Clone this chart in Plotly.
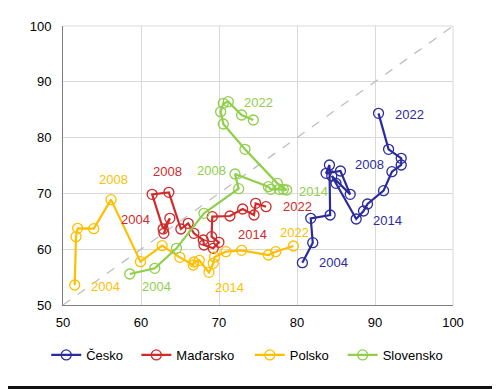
import plotly.graph_objects as go

years = list(range(2004, 2023))
series_names = ["Česko", "Maďarsko", "Polsko", "Slovensko"]

cz_x = [80.69, 82.02, 81.76, 84.25, 84.16, 83.73, 85.57, 86.82, 84.46, 85.0,
        87.59, 88.53, 89.04, 91.10, 92.17, 93.36, 93.36, 91.74, 90.45]
cz_y = [57.59, 61.17, 65.53, 66.13, 75.09, 73.60, 74.01, 69.83, 73.12, 71.8,
        65.41, 66.85, 68.10, 70.49, 73.89, 75.09, 76.28, 77.90, 84.35]

hu_x = [62.93, 63.70, 62.84, 61.43, 63.57, 65.11, 66.05, 66.78, 67.98, 68.07,
        69.26, 69.99, 69.05, 69.14, 71.40, 73.03, 74.49, 74.70, 76.03]
hu_y = [62.84, 65.53, 63.62, 69.83, 70.19, 63.62, 64.64, 62.84, 61.65, 60.75,
        60.16, 61.23, 62.25, 65.83, 65.95, 67.20, 66.13, 68.22, 67.62]

pl_x = [51.50, 51.67, 51.88, 53.94, 56.16, 59.93, 62.71, 64.98, 66.70, 66.78,
        67.47, 68.71, 69.26, 69.43, 70.89, 72.90, 76.33, 77.27, 79.54]
pl_y = [53.58, 62.25, 63.74, 63.68, 68.88, 57.77, 60.63, 58.54, 57.17, 57.71,
        58.00, 55.85, 57.47, 58.60, 59.56, 59.80, 58.96, 59.56, 60.57]

sk_x = [58.56, 61.77, 64.55, 68.07, 72.52, 72.05, 76.33, 76.63, 77.74, 78.25,
        78.68, 77.48, 73.33, 70.55, 70.21, 70.55, 71.19, 72.90, 74.40]
sk_y = [55.56, 56.57, 60.16, 66.43, 70.85, 73.48, 71.21, 70.73, 70.73, 70.73,
        70.61, 71.80, 77.90, 82.44, 84.65, 86.14, 86.44, 84.05, 83.15]

label_years = [2004, 2008, 2014, 2022]
diag = [50, 100]
x_ticks = [50, 60, 70, 80, 90, 100]
y_ticks = [50, 60, 70, 80, 90, 100]

# ---- styles ----
colors = ["#2b2b9e", "#d02a2a", "#ffbf00", "#8fcf4a"]
label_offsets = {
    "Česko": [(31, 0), (40, -1), (31, 1), (31, 1)],
    "Maďarsko": [(-28, -14), (-1, -21), (39, -14), (31, 0)],
    "Polsko": [(31, 1), (2, -20), (30, 27), (1, -14)],
    "Slovensko": [(27, 13), (-27, -18), (27, 1), (5, -18)],
}
legend_x = [-0.043, 0.188, 0.479, 0.717]
legend_keys = ["legend", "legend2", "legend3", "legend4"]

data = {
    "Česko": (cz_x, cz_y),
    "Maďarsko": (hu_x, hu_y),
    "Polsko": (pl_x, pl_y),
    "Slovensko": (sk_x, sk_y),
}

fig = go.Figure()
fig.add_trace(go.Scatter(x=diag, y=diag, mode="lines",
                         line=dict(color="#bfbfbf", width=1.3, dash="dash"),
                         showlegend=False, hoverinfo="skip"))

font_family = "Liberation Sans, Arial, sans-serif"
annotations = []
for name, col, lg in zip(series_names, colors, legend_keys):
    xs, ys = data[name]
    fig.add_trace(go.Scatter(
        x=xs, y=ys, mode="lines+markers", name=name, legend=lg,
        line=dict(color=col, width=2.2),
        marker=dict(symbol="circle-open", size=10, color=col,
                    line=dict(width=1.3, color=col)),
    ))
    for yr, (dx, dy) in zip(label_years, label_offsets[name]):
        i = years.index(yr)
        annotations.append(dict(
            x=xs[i], y=ys[i], xref="x", yref="y", text=str(yr),
            showarrow=False, xshift=dx, yshift=-dy,
            font=dict(family=font_family, size=13, color=col),
        ))

legend_common = dict(orientation="h", y=-0.179, yanchor="middle", xanchor="left",
                     font=dict(size=13, color="black", family=font_family),
                     itemwidth=30, bgcolor="rgba(0,0,0,0)")
layout_legends = {k: dict(legend_common, x=lx) for k, lx in zip(legend_keys, legend_x)}

fig.update_layout(
    width=492, height=381,
    margin=dict(l=55, r=47, t=18, b=84),
    paper_bgcolor="white", plot_bgcolor="white",
    font=dict(family=font_family, size=13, color="black"),
    showlegend=True,
    annotations=annotations,
    shapes=[
        dict(type="line", xref="paper", yref="paper", x0=1, x1=1, y0=0, y1=1,
             line=dict(color="#d9d9d9", width=1)),
        dict(type="line", xref="paper", yref="paper", x0=0, x1=1, y0=1, y1=1,
             line=dict(color="#d9d9d9", width=1)),
        dict(type="rect", xref="paper", yref="paper", x0=-0.2, x1=1.13,
             y0=-0.301, y1=-0.29, fillcolor="#111111", line=dict(width=0)),
        dict(type="rect", xref="paper", yref="paper", x0=1.108, x1=1.13,
             y0=-0.31, y1=1.1, fillcolor="#111111", line=dict(width=0)),
    ],
    **layout_legends,
)
fig.update_xaxes(range=[50, 100], tickvals=x_ticks, ticktext=[str(v) for v in x_ticks],
                 showgrid=True, gridcolor="#d9d9d9", gridwidth=1,
                 showline=True, linecolor="#7f7f7f", linewidth=1,
                 zeroline=False, ticks="", ticklabelstandoff=5,
                 tickfont=dict(size=13, color="black"))
fig.update_yaxes(range=[50, 100], tickvals=y_ticks, ticktext=[str(v) for v in y_ticks],
                 showgrid=True, gridcolor="#d9d9d9", gridwidth=1,
                 showline=True, linecolor="#7f7f7f", linewidth=1,
                 zeroline=False, ticks="", ticklabelstandoff=8,
                 tickfont=dict(size=13, color="black"))

fig.write_html("out.html")
